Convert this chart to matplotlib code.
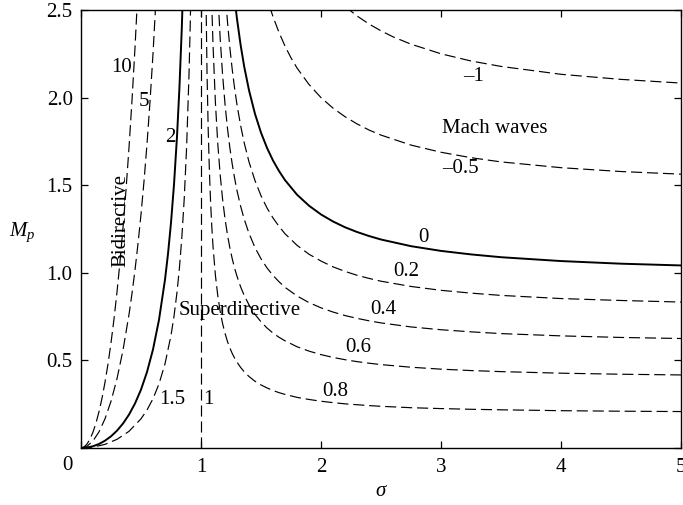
import matplotlib
matplotlib.use("Agg")
import matplotlib.pyplot as plt

plt.rcParams['font.family'] = ['Liberation Serif', 'DejaVu Serif']
plt.rcParams['mathtext.fontset'] = 'custom'
plt.rcParams['mathtext.it'] = 'Liberation Serif:italic'
plt.rcParams['mathtext.rm'] = 'Liberation Serif'
plt.rcParams['lines.scale_dashes'] = False

# ---- contour curves (sigma, M_p) ----
# left-hand family (sigma < 1)
s_c10 = [0.0, 0.025, 0.05, 0.075, 0.1, 0.125, 0.15, 0.175, 0.2, 0.225, 0.25, 0.275,
         0.3, 0.325, 0.35, 0.375, 0.4, 0.425, 0.45, 0.475]
m_c10 = [0.0, 0.0056, 0.0226, 0.0509, 0.0909, 0.1428, 0.2072, 0.2843, 0.375, 0.4799,
         0.60, 0.7363, 0.8901, 1.0629, 1.2564, 1.4727, 1.7143, 1.984, 2.2853, 2.6223]

s_c5 = [0.0, 0.05, 0.1, 0.15, 0.2, 0.25, 0.3, 0.35, 0.4, 0.425, 0.45, 0.475, 0.5,
        0.525, 0.55, 0.575, 0.6, 0.625]
m_c5 = [0.0, 0.010, 0.0404, 0.0921, 0.1667, 0.2667, 0.3956, 0.5584, 0.7619, 0.8818,
        1.0157, 1.1655, 1.3333, 1.522, 1.7348, 1.9757, 2.25, 2.5641]

s_c2 = [0.0, 0.05, 0.1, 0.15, 0.2, 0.25, 0.3, 0.35, 0.4, 0.45, 0.5, 0.55, 0.6, 0.65,
        0.7, 0.725, 0.75, 0.775, 0.8, 0.82, 0.84, 0.86]
m_c2 = [0.0, 0.0025, 0.0101, 0.023, 0.0417, 0.0667, 0.0989, 0.1396, 0.1905, 0.2539,
        0.3333, 0.4337, 0.5625, 0.7316, 0.9608, 1.108, 1.2857, 1.5039, 1.7778, 2.0525,
        2.3967, 2.8403]

s_c15 = [0.0, 0.1, 0.2, 0.3, 0.4, 0.5, 0.55, 0.6, 0.65, 0.7, 0.75, 0.775, 0.8, 0.82,
         0.84, 0.86, 0.88, 0.9, 0.91, 0.92]
m_c15 = [0.0, 0.0051, 0.0208, 0.0495, 0.0952, 0.1667, 0.2168, 0.2813, 0.3658, 0.4804,
         0.6429, 0.752, 0.8889, 1.0263, 1.1984, 1.4201, 1.7163, 2.1316, 2.4087, 2.7552]

s_c1 = [1.0, 1.0]
m_c1 = [0.0, 2.5]

# right-hand family (sigma > 1)
s_c0 = [1.28, 1.3, 1.33, 1.36, 1.4, 1.45, 1.5, 1.55, 1.6, 1.65, 1.7, 1.8, 1.9, 2.0,
        2.1, 2.2, 2.3, 2.4, 2.5, 2.75, 3.0, 3.25, 3.5, 4.0, 4.5, 5.0]
m_c0 = [2.566, 2.449, 2.301, 2.177, 2.042, 1.907, 1.80, 1.713, 1.641, 1.581, 1.529,
        1.446, 1.383, 1.333, 1.293, 1.260, 1.233, 1.210, 1.190, 1.152, 1.125, 1.105,
        1.089, 1.067, 1.052, 1.042]

s_c02 = [1.2, 1.22, 1.24, 1.26, 1.28, 1.3, 1.33, 1.36, 1.4, 1.45, 1.5, 1.55, 1.6, 1.65,
         1.7, 1.8, 1.9, 2.0, 2.1, 2.2, 2.3, 2.4, 2.5, 2.75, 3.0, 3.25, 3.5, 4.0, 4.5, 5.0]
m_c02 = [2.618, 2.438, 2.288, 2.162, 2.053, 1.959, 1.841, 1.742, 1.633, 1.526, 1.44,
         1.37, 1.313, 1.265, 1.223, 1.157, 1.106, 1.067, 1.034, 1.008, 0.986, 0.968,
         0.952, 0.922, 0.90, 0.884, 0.871, 0.853, 0.842, 0.833]

s_c04 = [1.14, 1.16, 1.18, 1.2, 1.22, 1.24, 1.26, 1.28, 1.3, 1.33, 1.36, 1.4, 1.45, 1.5,
         1.55, 1.6, 1.65, 1.7, 1.8, 1.9, 2.0, 2.1, 2.2, 2.3, 2.4, 2.5, 2.75, 3.0, 3.25,
         3.5, 4.0, 4.5, 5.0]
m_c04 = [2.603, 2.336, 2.129, 1.964, 1.828, 1.716, 1.621, 1.54, 1.469, 1.381, 1.306,
         1.225, 1.144, 1.08, 1.028, 0.985, 0.949, 0.917, 0.868, 0.83, 0.80, 0.776, 0.756,
         0.74, 0.726, 0.714, 0.691, 0.675, 0.663, 0.653, 0.64, 0.631, 0.625]

s_c06 = [1.08, 1.09, 1.1, 1.12, 1.14, 1.16, 1.18, 1.2, 1.22, 1.24, 1.26, 1.28, 1.3, 1.33,
         1.36, 1.4, 1.45, 1.5, 1.55, 1.6, 1.65, 1.7, 1.8, 1.9, 2.0, 2.1, 2.2, 2.3, 2.4,
         2.5, 2.75, 3.0, 3.25, 3.5, 4.0, 4.5, 5.0]
m_c06 = [2.804, 2.526, 2.305, 1.972, 1.735, 1.558, 1.419, 1.309, 1.219, 1.144, 1.081,
         1.026, 0.98, 0.92, 0.871, 0.817, 0.763, 0.72, 0.685, 0.656, 0.632, 0.612, 0.578,
         0.553, 0.533, 0.517, 0.504, 0.493, 0.484, 0.476, 0.461, 0.45, 0.442, 0.436,
         0.427, 0.421, 0.417]

s_c08 = [1.04, 1.05, 1.06, 1.07, 1.08, 1.09, 1.1, 1.12, 1.14, 1.16, 1.18, 1.2, 1.22, 1.24,
         1.26, 1.28, 1.3, 1.33, 1.36, 1.4, 1.45, 1.5, 1.55, 1.6, 1.65, 1.7, 1.8, 1.9, 2.0,
         2.1, 2.2, 2.3, 2.4, 2.5, 2.75, 3.0, 3.25, 3.5, 4.0, 4.5, 5.0]
m_c08 = [2.651, 2.151, 1.818, 1.58, 1.402, 1.263, 1.152, 0.986, 0.868, 0.779, 0.71,
         0.655, 0.609, 0.572, 0.54, 0.513, 0.49, 0.46, 0.435, 0.408, 0.381, 0.36, 0.343,
         0.328, 0.316, 0.306, 0.289, 0.277, 0.267, 0.259, 0.252, 0.247, 0.242, 0.238,
         0.23, 0.225, 0.221, 0.218, 0.213, 0.21, 0.208]

s_cm05 = [1.57, 1.6, 1.65, 1.7, 1.75, 1.8, 1.9, 2.0, 2.1, 2.2, 2.3, 2.4, 2.5, 2.75, 3.0,
          3.25, 3.5, 4.0, 4.5, 5.0]
m_cm05 = [2.524, 2.462, 2.372, 2.294, 2.227, 2.169, 2.075, 2.0, 1.94, 1.891, 1.85,
          1.815, 1.786, 1.729, 1.688, 1.657, 1.633, 1.60, 1.578, 1.563]

s_cm1 = [2.2, 2.3, 2.4, 2.5, 2.6, 2.75, 3.0, 3.25, 3.5, 4.0, 4.5, 5.0]
m_cm1 = [2.521, 2.466, 2.42, 2.381, 2.347, 2.305, 2.25, 2.209, 2.178, 2.133, 2.104, 2.083]

# contour labels
label_texts = ['10', '5', '2', '1.5', '1', '0', '0.2', '0.4', '0.6', '0.8', '\u20131', '\u20130.5']
label_sigma = [0.342, 0.525, 0.742, 0.758, 1.058, 2.85, 2.708, 2.517, 2.308, 2.117, 3.275, 3.158]
label_m = [2.169, 1.98, 1.77, 0.274, 0.274, 1.204, 1.005, 0.793, 0.576, 0.325, 2.123, 1.598]

xticks = [0, 1, 2, 3, 4, 5]
xticklabels = ['', '1', '2', '3', '4', '5']
yticks = [0, 0.5, 1.0, 1.5, 2.0, 2.5]
yticklabels = ['', '0.5', '1.0', '1.5', '2.0', '2.5']

fig = plt.figure(figsize=(6.83, 5.05), dpi=100)
ax = fig.add_axes([81 / 683, 57 / 505, 600 / 683, 438 / 505])

dash = (0, (8, 3.5))
solid_kw = dict(color='black', lw=1.4, solid_capstyle='butt')
dash_kw = dict(color='black', lw=0.85, linestyle=dash)

ax.plot(s_c10, m_c10, **dash_kw)
ax.plot(s_c5, m_c5, **dash_kw)
ax.plot(s_c2, m_c2, **solid_kw)
ax.plot(s_c15, m_c15, **dash_kw)
ax.plot(s_c1, m_c1, **dash_kw)
ax.plot(s_c0, m_c0, **solid_kw)
ax.plot(s_c02, m_c02, **dash_kw)
ax.plot(s_c04, m_c04, **dash_kw)
ax.plot(s_c06, m_c06, **dash_kw)
ax.plot(s_c08, m_c08, **dash_kw)
ax.plot(s_cm05, m_cm05, **dash_kw)
ax.plot(s_cm1, m_cm1, **dash_kw)

fs = 15
for t, xs, ys in zip(label_texts, label_sigma, label_m):
    ax.text(xs, ys, t, fontsize=fs, ha='center', va='center')

ax.text(3.45, 1.826, 'Mach waves', fontsize=fs, ha='center', va='center')
ax.text(1.325, 0.782, 'Superdirective', fontsize=fs, ha='center', va='center')
ax.text(0.333, 1.30, 'Bidirective', fontsize=fs, ha='center', va='center', rotation=90)

ax.set_xlim(0, 5)
ax.set_ylim(0, 2.5)
ax.set_xticks(xticks)
ax.set_xticklabels(xticklabels)
ax.set_yticks(yticks)
ax.set_yticklabels(yticklabels)
ax.tick_params(direction='in', length=5, width=0.9, labelsize=fs,
               top=True, right=True)
ax.tick_params(axis='x', pad=7)
ax.tick_params(axis='y', pad=6)
ax.text(-14 / 600, -17 / 438, '0', transform=ax.transAxes, fontsize=fs,
        ha='center', va='center')

for sp in ax.spines.values():
    sp.set_linewidth(1.0)

ax.set_xlabel('$\\sigma$', fontsize=fs, va='center')
ax.xaxis.set_label_coords(0.5, -0.100)
ax.set_ylabel('$M_p$', fontsize=fs, rotation=0, ha='center', va='center')
ax.yaxis.set_label_coords(-0.098, 0.493)

fig.savefig('out.png', dpi=100)
